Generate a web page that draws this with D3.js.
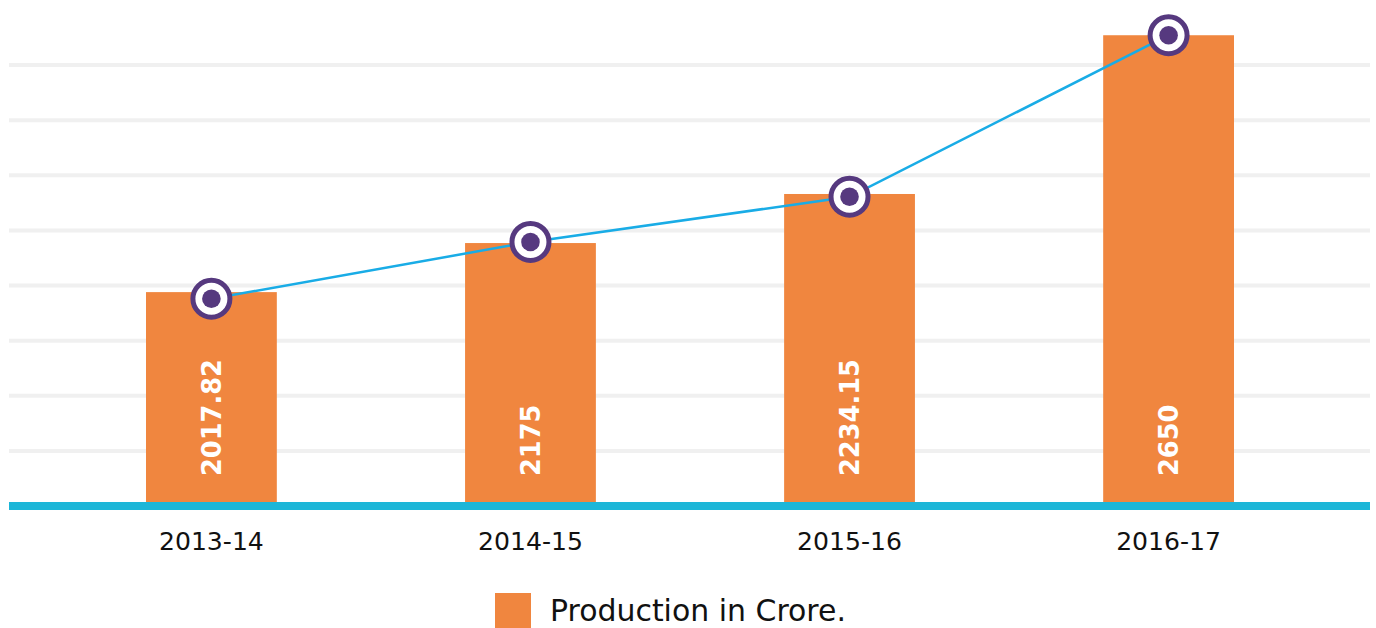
<!DOCTYPE html>
<html>
<head>
<meta charset="utf-8">
<script src="https://cdn.jsdelivr.net/npm/d3@7"></script>
<style>
  html, body { margin: 0; padding: 0; background: #fff; }
  svg { display: block; }
</style>
</head>
<body>
<svg id="chart" width="1376" height="628"></svg>
<script>
// ---- data ----
const categories = ["2013-14", "2014-15", "2015-16", "2016-17"];
const production = ["2017.82", "2175", "2234.15", "2650"];      // value labels
const barLevel = [3.88, 4.77, 5.66, 8.54];                       // bar heights
const trendLevel = [3.76, 4.79, 5.61, 8.54];                     // trend line points
const gridTicks = [0, 1, 2, 3, 4, 5, 6, 7, 8];
const legendLabel = "Production in Crore.";

const svg = d3.select("#chart");
const FONT = "'DejaVu Sans', sans-serif";

const x = d3.scaleBand().domain(categories).range([146, 1234]).paddingInner(0.59).paddingOuter(0.0);
const y = d3.scaleLinear().domain([0, 8]).range([506, 65]);

// gridlines
svg.append("g").selectAll("line").data(gridTicks).join("line")
  .attr("x1", 9).attr("x2", 1370)
  .attr("y1", d => y(d)).attr("y2", d => y(d))
  .attr("stroke", "#f0f0f0").attr("stroke-width", 4);

// bars
svg.append("g").selectAll("rect").data(categories).join("rect")
  .attr("x", d => x(d))
  .attr("width", x.bandwidth())
  .attr("y", (d, i) => y(barLevel[i]))
  .attr("height", (d, i) => y(0) - y(barLevel[i]))
  .attr("fill", "#f0863f");

// baseline
svg.append("line").attr("x1", 9).attr("x2", 1370)
  .attr("y1", y(0)).attr("y2", y(0))
  .attr("stroke", "#1cb6d8").attr("stroke-width", 8);

// fit helper
function fitSize(text, weight, target) {
  const t = svg.append("text").attr("font-family", FONT).attr("font-weight", weight)
    .attr("font-size", 100).text(text);
  const w = t.node().getComputedTextLength();
  t.remove();
  return 100 * target / w;
}

// value labels (rotated)
const valSize = fitSize("2017.82", "bold", 117);
svg.append("g").selectAll("text").data(categories).join("text")
  .attr("transform", d => `translate(${x(d) + x.bandwidth() / 2 + valSize * 0.36},476) rotate(-90)`)
  .attr("font-family", FONT).attr("font-weight", "bold")
  .attr("font-size", valSize).attr("fill", "#fff")
  .text((d, i) => production[i]);

// category axis labels
const catSize = fitSize("2013-14", "normal", 105);
svg.append("g").selectAll("text").data(categories).join("text")
  .attr("x", d => x(d) + x.bandwidth() / 2)
  .attr("y", 550)
  .attr("text-anchor", "middle")
  .attr("font-family", FONT).attr("font-size", catSize).attr("fill", "#111")
  .text(d => d);

// trend line
const line = d3.line()
  .x((d, i) => x(categories[i]) + x.bandwidth() / 2)
  .y(d => y(d));
svg.append("path").datum(trendLevel)
  .attr("d", line).attr("fill", "none")
  .attr("stroke", "#19ace6").attr("stroke-width", 2.5);

// markers
const mk = svg.append("g").selectAll("g").data(trendLevel).join("g")
  .attr("transform", (d, i) => `translate(${x(categories[i]) + x.bandwidth() / 2},${y(d)})`);
mk.append("circle").attr("r", 18.5).attr("fill", "#fff")
  .attr("stroke", "#56397f").attr("stroke-width", 5);
mk.append("circle").attr("r", 9.3).attr("fill", "#56397f");

// legend
svg.append("rect").attr("x", 495).attr("y", 593).attr("width", 36).attr("height", 35).attr("fill", "#f0863f");
const legSize = fitSize(legendLabel, "normal", 296);
svg.append("text").attr("x", 550).attr("y", 621)
  .attr("font-family", FONT).attr("font-size", legSize).attr("fill", "#111")
  .text(legendLabel);
</script>
</body>
</html>
